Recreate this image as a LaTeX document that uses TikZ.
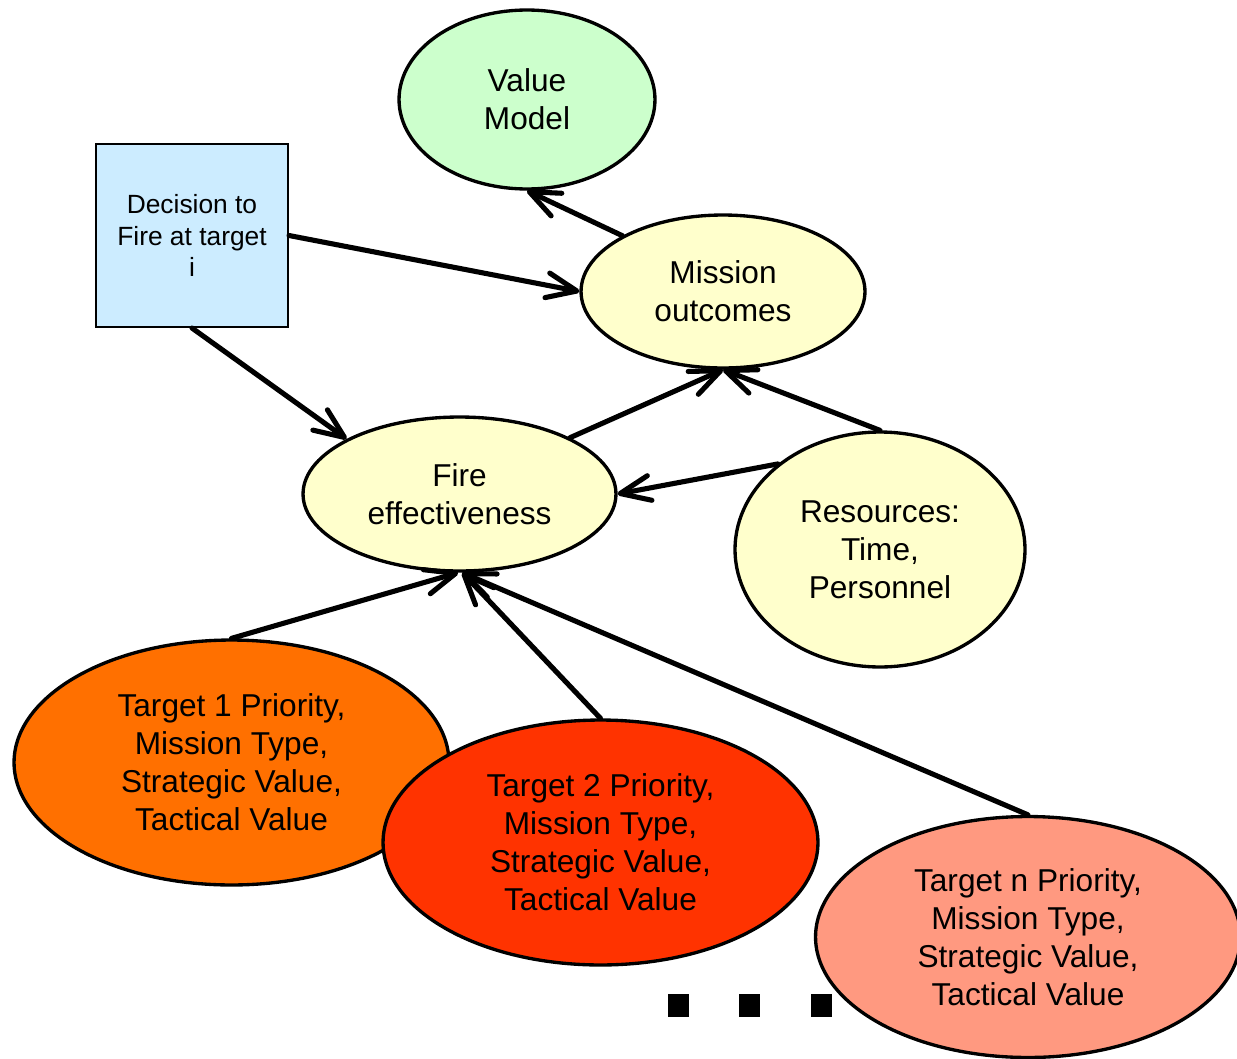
\documentclass[tikz,border=0pt]{standalone}
\usepackage{fontspec}
\setmainfont{Liberation Sans}
\usetikzlibrary{shapes.geometric,arrows.meta}

\definecolor{valuegreen}{HTML}{CCFFCC}
\definecolor{decblue}{HTML}{CCECFF}
\definecolor{chanceyellow}{HTML}{FFFFCC}
\definecolor{tgtorange}{HTML}{FF7000}
\definecolor{tgtred}{HTML}{FF3300}
\definecolor{tgtsalmon}{HTML}{FF9980}

\tikzset{
  oval/.style={ellipse, draw=black, line width=1.9pt, inner sep=0pt, align=center,
    font=\fontsize{18}{21.6}\selectfont},
  decbox/.style={rectangle, draw=black, line width=1.2pt, fill=decblue, inner sep=0pt,
    align=center, minimum width=3.84cm, minimum height=3.66cm,
    font=\fontsize{15}{18}\selectfont},
  target/.style={oval, minimum width=8.7cm, minimum height=4.9cm},
  dotmark/.style={rectangle, fill=black, inner sep=0pt, minimum width=0.42cm, minimum height=0.46cm},
  link/.style={line width=2.9pt, line cap=round,
    -{Straight Barb[length=0.6cm, width=0.5cm, round]}}
}

\begin{document}
\begin{tikzpicture}[x=0.02cm, y=-0.02cm]
  \useasboundingbox (0,0) rectangle (1237,1058);

  % trailing ellipsis marks
  \node[dotmark] (dot1) at (678.5,1005.5) {};
  \node[dotmark] (dot2) at (749.5,1005.5) {};
  \node[dotmark] (dot3) at (821.5,1005.5) {};

  % model nodes
  \node[oval, fill=valuegreen, minimum width=5.12cm, minimum height=3.58cm]
    (value) at (527,99.5) {Value\\Model};
  \node[decbox] (decision) at (192,235.5) {Decision to\\Fire at target\\i};
  \node[oval, fill=chanceyellow, minimum width=5.68cm, minimum height=3.06cm]
    (mission) at (723,291.5) {Mission\\outcomes};
  \node[oval, fill=chanceyellow, minimum width=6.26cm, minimum height=3.08cm]
    (fire) at (459.5,494) {Fire\\effectiveness};
  \node[oval, fill=chanceyellow, minimum width=5.8cm, minimum height=4.7cm]
    (resources) at (880,549.5) {Resources:\\Time,\\Personnel};

  % target nodes
  \node[target, fill=tgtorange] (t1) at (231.5,762.5)
    {Target 1 Priority,\\Mission Type,\\Strategic Value,\\Tactical Value};
  \node[target, fill=tgtred] (t2) at (600.5,842.5)
    {Target 2 Priority,\\Mission Type,\\Strategic Value,\\Tactical Value};
  \node[target, fill=tgtsalmon, minimum width=8.5cm, minimum height=4.82cm] (tn) at (1028,937)
    {Target n Priority,\\Mission Type,\\Strategic Value,\\Tactical Value};

  % influences
  \draw[link] (mission.151) -- (value.south);
  \draw[link] (decision.east) -- (mission.west);
  \draw[link] (decision.south) -- (fire.154);
  \draw[link] (fire.27) -- (mission.south);
  \draw[link] (resources.north) -- (mission.south);
  \draw[link] (resources.140) -- (fire.east);
  \draw[link] (t1.north) -- (fire.269);
  \draw[link] (t2.north) -- (fire.272);
  \draw[link] (tn.north) -- (fire.272);
\end{tikzpicture}
\end{document}
